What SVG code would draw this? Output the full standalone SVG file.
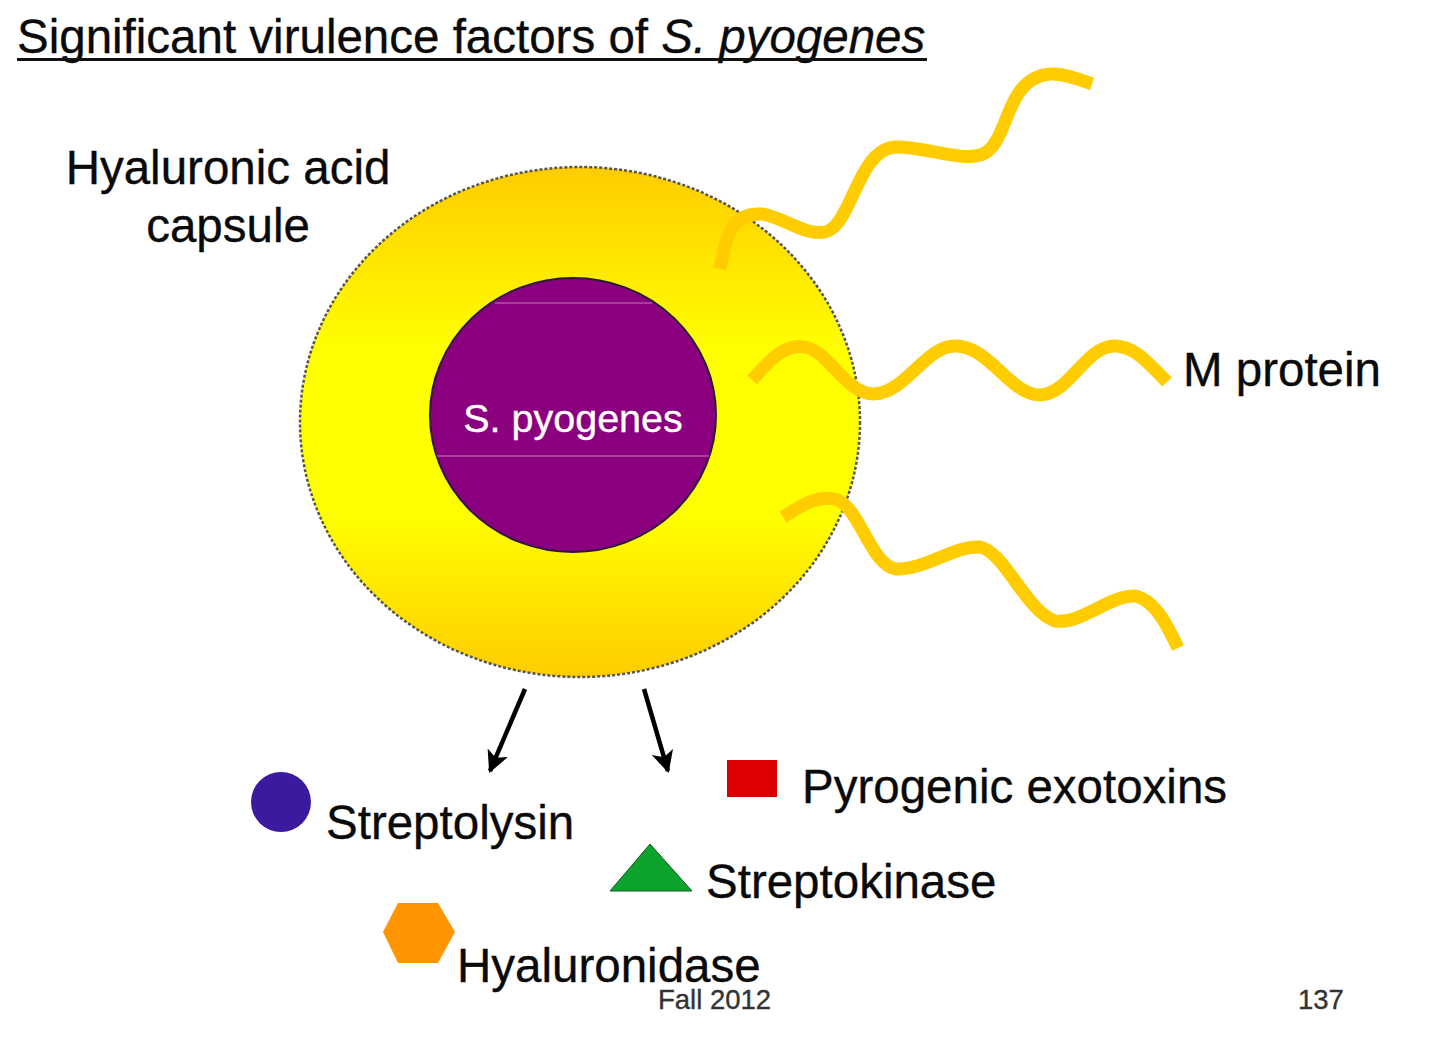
<svg xmlns="http://www.w3.org/2000/svg" width="1440" height="1039" viewBox="0 0 1440 1039">
<style>
text{font-family:"Liberation Sans",Arial,sans-serif;fill:#0a0a0a;stroke:#0a0a0a;stroke-width:.35}
.l{font-size:47.5px}
.f{font-size:27.5px;fill:#333;stroke:#333}
.w{fill:none;stroke:#ffcc00;stroke-width:13}
.a{stroke:#000;stroke-width:4.5;fill:none;marker-end:url(#ah)}
</style>
<defs>
<linearGradient id="g" x1="0" y1="0" x2="0" y2="1">
<stop offset="0" stop-color="#ffcc00"/><stop offset="0.36" stop-color="#ffff00"/><stop offset="0.68" stop-color="#ffff00"/><stop offset="1" stop-color="#ffcc00"/>
</linearGradient>
<marker id="ah" viewBox="0 0 10 10" refX="9" refY="5" markerWidth="22" markerHeight="22" markerUnits="userSpaceOnUse" orient="auto"><path d="M0 0L10 5L0 10L2.5 5Z" fill="#000"/></marker>
</defs>
<rect width="1440" height="1039" fill="#fff"/>
<g id="title">
<text x="17" y="53" class="l">Significant virulence factors of <tspan font-style="italic">S. pyogenes</tspan></text>
<rect x="17" y="58" width="910" height="3" fill="#111"/>
</g>
<g id="capsule">
<ellipse cx="580" cy="422" rx="280" ry="255" fill="url(#g)" stroke="#555" stroke-width="2.5" stroke-dasharray="3 2"/>
</g>
<g id="bacterium">
<ellipse cx="573" cy="415" rx="143" ry="137" fill="#8b007e" stroke="#2a1a3a" stroke-width="2"/>
<path d="M495 303H652M437 456H709" stroke="#a8409a" stroke-width="2" fill="none"/>
<text x="573" y="432" text-anchor="middle" font-size="39.5" style="fill:#fff;stroke:#fff">S. pyogenes</text>
</g>
<g id="capsule-label">
<text x="228" y="184" text-anchor="middle" class="l">Hyaluronic acid</text>
<text x="228" y="242" text-anchor="middle" class="l">capsule</text>
</g>
<g id="m-proteins">
<path class="w" d="M720 269C726 235 732 212 762 214C785 218 805 236 825 232C852 226 857 150 895 147C925 146 965 164 985 153C1010 138 1005 78 1050 74C1065 73 1080 80 1092 84"/>
<path class="w" d="M752 380C770 360 785 343 805 347C830 352 845 393 873 394C905 394 925 346 955 346C990 346 1010 395 1040 395C1070 394 1085 346 1115 346C1135 346 1150 365 1167 382"/>
<path class="w" d="M783 517C800 507 815 495 835 499C860 506 870 565 896 569C925 570 955 545 980 547C1005 552 1025 610 1055 621C1080 625 1110 595 1135 596C1155 600 1167 625 1178 648"/>
<text x="1183" y="386" class="l">M protein</text>
</g>
<g id="connectors">
<line class="a" x1="525" y1="689" x2="490" y2="771"/>
<line class="a" x1="644" y1="689" x2="668" y2="771"/>
</g>
<g id="streptolysin"><circle cx="281" cy="802" r="30" fill="#3c1a9e"/><text x="326" y="839" class="l">Streptolysin</text></g>
<g id="exotoxins"><rect x="727" y="760" width="50" height="37" fill="#dd0000"/><text x="802" y="803" class="l">Pyrogenic exotoxins</text></g>
<g id="streptokinase"><path d="M650 844L692 891H610Z" fill="#0ca32c" stroke="#1a5a2a" stroke-width="1"/><text x="706" y="898" class="l">Streptokinase</text></g>
<g id="hyaluronidase"><path d="M398 903H438L455 932L438 963H398L383 932Z" fill="#ff9500"/><text x="457" y="982" class="l">Hyaluronidase</text></g>
<g id="footer"><text x="658" y="1009" class="f">Fall 2012</text><text x="1298" y="1009" class="f">137</text></g>
</svg>
